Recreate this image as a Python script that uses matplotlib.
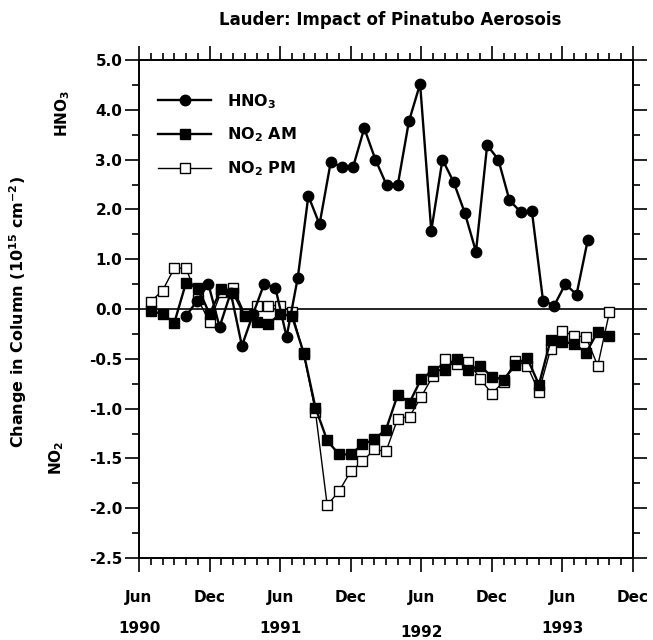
import numpy as np
import matplotlib
matplotlib.use('Agg')
import matplotlib.pyplot as plt
import matplotlib.transforms as mtransforms
from matplotlib.ticker import FixedLocator, FixedFormatter

plt.rcParams['font.family'] = ['DejaVu Sans']
plt.rcParams['font.weight'] = 'bold'
plt.rcParams['mathtext.default'] = 'bf'

# x in months after Jun 1990
hno3_month = [4.0, 4.95, 5.9, 6.85, 7.8, 8.75, 9.7, 10.65, 11.6, 12.55,
              13.5, 14.4, 15.35, 16.3, 17.25, 18.2, 19.15, 20.1, 21.05, 22.0,
              22.95, 23.9, 24.85, 25.8, 26.75, 27.7, 28.65, 29.6, 30.55, 31.5,
              32.45, 33.4, 34.35, 35.3, 36.25, 37.2, 38.15]
hno3 = [-0.07, 0.17, 0.50, -0.18, 0.33, -0.37, -0.05, 0.51, 0.42, -0.28,
        0.63, 2.27, 1.70, 2.95, 2.85, 2.85, 3.63, 3.00, 2.49, 2.49,
        3.77, 4.52, 1.57, 3.00, 2.55, 1.93, 1.15, 3.29, 3.00, 2.18,
        1.95, 1.97, 0.17, 0.07, 0.50, 0.29, 1.38]

no2_month = [1, 2, 3, 4, 5, 6, 7, 8, 9, 10, 11, 12, 13, 14, 15, 16, 17, 18, 19, 20,
             21, 22, 23, 24, 25, 26, 27, 28, 29, 30, 31, 32, 33, 34, 35, 36, 37, 38, 39, 40]
no2_am = [-0.02, -0.05, -0.14, 0.53, 0.43, -0.05, 0.40, 0.33, -0.07, -0.13,
          -0.15, -0.05, -0.07, -0.44, -0.99, -1.32, -1.46, -1.46, -1.36, -1.31,
          -1.21, -0.86, -0.94, -0.70, -0.62, -0.61, -0.50, -0.61, -0.57, -0.68,
          -0.71, -0.56, -0.49, -0.76, -0.31, -0.33, -0.35, -0.44, -0.23, -0.27]
no2_pm = [0.15, 0.37, 0.82, 0.82, 0.20, -0.13, 0.35, 0.43, -0.05, 0.07,
          0.07, 0.07, -0.03, -0.45, -1.03, -1.97, -1.83, -1.63, -1.53, -1.41,
          -1.43, -1.10, -1.08, -0.88, -0.67, -0.50, -0.55, -0.53, -0.70, -0.85,
          -0.73, -0.52, -0.57, -0.83, -0.40, -0.22, -0.27, -0.28, -0.57, -0.03]

xtick_pos = [0, 6, 12, 18, 24, 30, 36, 42]
xtick_labels = ['Jun', 'Dec', 'Jun', 'Dec', 'Jun', 'Dec', 'Jun', 'Dec']
years = ['1990', '1991', '1992', '1993']
year_pos = [0, 12, 24, 36]
yticks = [-2.5, -2.0, -1.5, -1.0, -0.5, 0.0, 1.0, 2.0, 3.0, 4.0, 5.0]
yminor = [-2.25, -1.75, -1.25, -0.75, -0.25, 0.5, 1.5, 2.5, 3.5, 4.5]


# negative side is stretched twice as much as the positive side
def fwd(y):
    y = np.asarray(y, dtype=float)
    return np.where(y >= 0, y, 2 * y)


def inv(v):
    v = np.asarray(v, dtype=float)
    return np.where(v >= 0, v, v / 2)


fig = plt.figure(figsize=(6.53, 6.40), dpi=100)
ax = fig.add_axes([139 / 653, 1 - 558 / 640, 494 / 653, 498 / 640])
ax.set_yscale('function', functions=(fwd, inv))
ax.set_xlim(0, 42)
ax.set_ylim(-2.5, 5.0)

ax.axhline(0, color='black', lw=1.2, zorder=1)

ax.plot(no2_month, no2_pm, '-s', color='black', lw=1.0, ms=6.5,
        mfc='white', mec='black', mew=1.0, label='NO$_2$ PM', zorder=3)
ax.plot(no2_month, no2_am, '-s', color='black', lw=1.7, ms=6.5,
        mfc='black', mec='black', label='NO$_2$ AM', zorder=4)
ax.plot(hno3_month, hno3, '-o', color='black', lw=1.7, ms=7.5,
        mfc='black', mec='black', label='HNO$_3$', zorder=5)

ax.xaxis.set_major_locator(FixedLocator(xtick_pos))
ax.xaxis.set_major_formatter(FixedFormatter(xtick_labels))
ax.xaxis.set_minor_locator(FixedLocator(list(range(43))))
ax.yaxis.set_major_locator(FixedLocator(yticks))
ax.yaxis.set_major_formatter(FixedFormatter(['%.1f' % t for t in yticks]))
ax.yaxis.set_minor_locator(FixedLocator(yminor))

ax.tick_params(axis='both', which='both', direction='out', top=True, right=True,
               width=1.2, labelsize=11)
ax.tick_params(axis='x', which='major', length=10, pad=13)
ax.tick_params(axis='x', which='minor', length=5)
ax.tick_params(axis='y', which='major', length=10, pad=2)
ax.tick_params(axis='y', which='minor', length=5)
for s in ax.spines.values():
    s.set_linewidth(1.4)

trans = mtransforms.blended_transform_factory(ax.transData, ax.transAxes)
for yr, pos in zip(years, year_pos):
    dy = -0.008 if yr == '1992' else 0.0
    ax.text(pos, -0.142 + dy, yr, transform=trans, ha='center', va='center',
            fontsize=11, fontweight='bold')

h, l = ax.get_legend_handles_labels()
ax.legend(h[::-1], l[::-1], loc='upper left', bbox_to_anchor=(0.01, 0.965),
          frameon=False, fontsize=11.5, handlelength=3.3, handletextpad=1.0,
          labelspacing=0.95)

fig.text(390 / 653, 1 - 20 / 640, 'Lauder: Impact of Pinatubo Aerosois',
         ha='center', va='center', fontsize=12, fontweight='bold')
fig.text(18 / 653, 1 - 312 / 640, 'Change in Column (10$^{15}$ cm$^{-2}$)',
         ha='center', va='center', rotation=90, fontsize=11.5, fontweight='bold')
fig.text(63 / 653, 1 - 113 / 640, 'HNO$_3$', ha='center', va='center',
         rotation=90, fontsize=11, fontweight='bold')
fig.text(57 / 653, 1 - 458 / 640, 'NO$_2$', ha='center', va='center',
         rotation=90, fontsize=11, fontweight='bold')

fig.savefig('out.png', dpi=100)
